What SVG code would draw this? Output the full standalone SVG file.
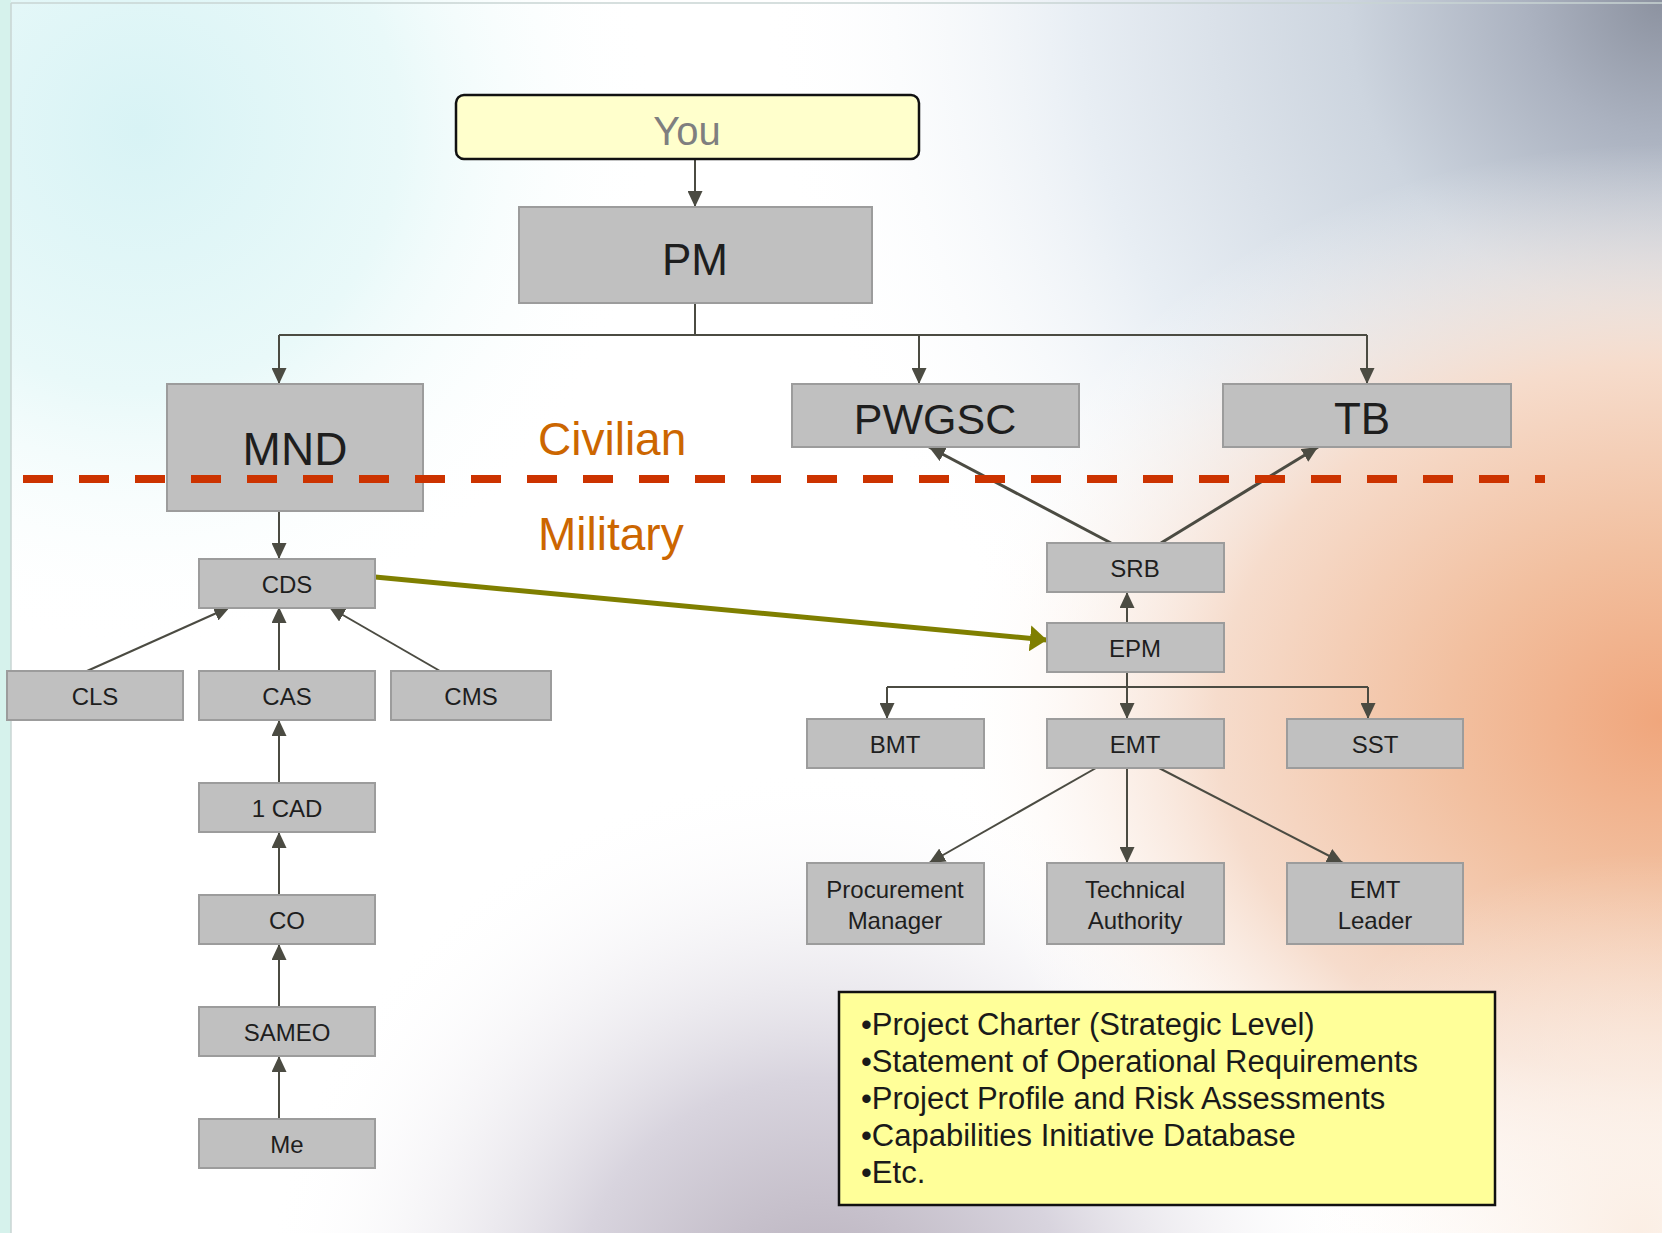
<svg xmlns="http://www.w3.org/2000/svg" width="1662" height="1233" viewBox="0 0 1662 1233">
<defs>
<style>
.node rect{fill:#c0c0c0;stroke:#9c9c9c;stroke-width:2}
.lbl{font-family:"Liberation Sans",Arial,sans-serif;fill:#1e1e1e;text-anchor:middle}
.s{font-size:24px}
.big{font-size:44px}
.c{fill:none;stroke:#4b4b42;stroke-width:2}
.side{font-family:"Liberation Sans",Arial,sans-serif;font-size:46px;fill:#cc6600}
.bul{font-family:"Liberation Sans",Arial,sans-serif;font-size:31px;fill:#1a1a1a}
</style>
<marker id="ah" markerUnits="userSpaceOnUse" markerWidth="17" markerHeight="15" refX="16" refY="7.5" orient="auto">
<path d="M0,0 L16,7.5 L0,15 z" fill="#4b4b42"/>
</marker>
<marker id="ahg" markerUnits="userSpaceOnUse" markerWidth="18" markerHeight="26" refX="17" refY="13" orient="auto">
<path d="M0,0 L17,13 L0,26 z" fill="#7f7f00"/>
</marker>
<radialGradient id="gCyan" cx="140" cy="130" r="520" gradientUnits="userSpaceOnUse">
<stop offset="0" stop-color="#d8f3f5"/>
<stop offset="0.5" stop-color="#e9f9f9"/>
<stop offset="1" stop-color="#ffffff" stop-opacity="0"/>
</radialGradient>
<radialGradient id="gTR" cx="1662" cy="0" r="900" gradientUnits="userSpaceOnUse">
<stop offset="0" stop-color="#8c92a0"/>
<stop offset="0.15" stop-color="#abb2c0"/>
<stop offset="0.35" stop-color="#cdd5df"/>
<stop offset="0.65" stop-color="#e8eef4"/>
<stop offset="1" stop-color="#ffffff" stop-opacity="0"/>
</radialGradient>
<radialGradient id="gPeach" cx="1662" cy="720" r="720" gradientUnits="userSpaceOnUse" gradientTransform="translate(0 720) scale(1 0.8) translate(0 -720)">
<stop offset="0" stop-color="#f0a67c"/>
<stop offset="0.3" stop-color="#f2c0a0"/>
<stop offset="0.62" stop-color="#f6dccc"/>
<stop offset="1" stop-color="#ffffff" stop-opacity="0"/>
</radialGradient>
<radialGradient id="gBot" cx="820" cy="1330" r="560" gradientUnits="userSpaceOnUse">
<stop offset="0" stop-color="#b4acb8"/>
<stop offset="0.45" stop-color="#d8d4de"/>
<stop offset="1" stop-color="#ffffff" stop-opacity="0"/>
</radialGradient>
<radialGradient id="gBR" cx="1640" cy="1233" r="380" gradientUnits="userSpaceOnUse">
<stop offset="0" stop-color="#fbeee4"/>
<stop offset="1" stop-color="#ffffff" stop-opacity="0"/>
</radialGradient>
</defs>

<g id="background">
<rect x="0" y="0" width="1662" height="1233" fill="#ffffff"/>
<rect x="0" y="0" width="1662" height="1233" fill="url(#gCyan)"/>
<rect x="0" y="0" width="1662" height="1233" fill="url(#gBot)"/>
<rect x="0" y="0" width="1662" height="1233" fill="url(#gTR)"/>
<rect x="0" y="0" width="1662" height="1233" fill="url(#gPeach)"/>
<rect x="0" y="0" width="1662" height="1233" fill="url(#gBR)"/>
<rect x="0" y="0" width="11" height="1233" fill="#d6f2ec"/>
<line x1="11" y1="3" x2="11" y2="1233" stroke="#c9d5d3" stroke-width="1.5"/>
<line x1="11" y1="3" x2="1662" y2="3" stroke="#c9d5d3" stroke-width="1.5"/>
</g>

<g id="connectors">
<line class="c" x1="695" y1="159" x2="695" y2="207" marker-end="url(#ah)"/>
<polyline class="c" points="695,303 695,335"/>
<polyline class="c" points="279,335 1367,335"/>
<line class="c" x1="279" y1="335" x2="279" y2="384" marker-end="url(#ah)"/>
<line class="c" x1="919" y1="335" x2="919" y2="384" marker-end="url(#ah)"/>
<line class="c" x1="1367" y1="335" x2="1367" y2="384" marker-end="url(#ah)"/>
<line class="c" x1="279" y1="511" x2="279" y2="559" marker-end="url(#ah)"/>
<line class="c" x1="87" y1="671" x2="230" y2="607" marker-end="url(#ah)"/>
<line class="c" x1="279" y1="671" x2="279" y2="607" marker-end="url(#ah)"/>
<line class="c" x1="440" y1="671" x2="329" y2="607" marker-end="url(#ah)"/>
<line class="c" x1="279" y1="783" x2="279" y2="720" marker-end="url(#ah)"/>
<line class="c" x1="279" y1="895" x2="279" y2="832" marker-end="url(#ah)"/>
<line class="c" x1="279" y1="1007" x2="279" y2="944" marker-end="url(#ah)"/>
<line class="c" x1="279" y1="1119" x2="279" y2="1056" marker-end="url(#ah)"/>
<line class="c" style="stroke-width:3" x1="1111" y1="543" x2="929" y2="447" marker-end="url(#ah)"/>
<line class="c" style="stroke-width:3" x1="1161" y1="543" x2="1318" y2="447" marker-end="url(#ah)"/>
<line class="c" x1="1127" y1="623" x2="1127" y2="592" marker-end="url(#ah)"/>
<polyline class="c" points="1127,672 1127,687"/>
<polyline class="c" points="887,687 1368,687"/>
<line class="c" x1="887" y1="687" x2="887" y2="719" marker-end="url(#ah)"/>
<line class="c" x1="1127" y1="687" x2="1127" y2="719" marker-end="url(#ah)"/>
<line class="c" x1="1368" y1="687" x2="1368" y2="719" marker-end="url(#ah)"/>
<line class="c" x1="1096" y1="768" x2="929" y2="863" marker-end="url(#ah)"/>
<line class="c" x1="1127" y1="768" x2="1127" y2="863" marker-end="url(#ah)"/>
<line class="c" x1="1159" y1="768" x2="1343" y2="863" marker-end="url(#ah)"/>
<line x1="375" y1="577" x2="1047" y2="640" stroke="#7f7f00" stroke-width="5" marker-end="url(#ahg)"/>
</g>

<g id="you">
<rect x="456" y="95" width="463" height="64" rx="8" fill="#ffffcc" stroke="#111" stroke-width="2.5"/>
<text class="lbl" x="687" y="145" style="font-size:40px;fill:#7f7f7f">You</text>
</g>
<g id="pm" class="node"><rect x="519" y="207" width="353" height="96"/><text class="lbl big" x="695" y="275">PM</text></g>
<g id="mnd" class="node"><rect x="167" y="384" width="256" height="127"/><text class="lbl" x="295" y="465" style="font-size:46px">MND</text></g>
<g id="pwgsc" class="node"><rect x="792" y="384" width="287" height="63"/><text class="lbl" x="935" y="434" style="font-size:43px">PWGSC</text></g>
<g id="tb" class="node"><rect x="1223" y="384" width="288" height="63"/><text class="lbl big" x="1362" y="434">TB</text></g>

<g id="cds" class="node"><rect x="199" y="559" width="176" height="49"/><text class="lbl s" x="287" y="593">CDS</text></g>
<g id="cls" class="node"><rect x="7" y="671" width="176" height="49"/><text class="lbl s" x="95" y="705">CLS</text></g>
<g id="cas" class="node"><rect x="199" y="671" width="176" height="49"/><text class="lbl s" x="287" y="705">CAS</text></g>
<g id="cms" class="node"><rect x="391" y="671" width="160" height="49"/><text class="lbl s" x="471" y="705">CMS</text></g>
<g id="cad" class="node"><rect x="199" y="783" width="176" height="49"/><text class="lbl s" x="287" y="817">1 CAD</text></g>
<g id="co" class="node"><rect x="199" y="895" width="176" height="49"/><text class="lbl s" x="287" y="929">CO</text></g>
<g id="sameo" class="node"><rect x="199" y="1007" width="176" height="49"/><text class="lbl s" x="287" y="1041">SAMEO</text></g>
<g id="me" class="node"><rect x="199" y="1119" width="176" height="49"/><text class="lbl s" x="287" y="1153">Me</text></g>

<g id="srb" class="node"><rect x="1047" y="543" width="177" height="49"/><text class="lbl s" x="1135" y="577">SRB</text></g>
<g id="epm" class="node"><rect x="1047" y="623" width="177" height="49"/><text class="lbl s" x="1135" y="657">EPM</text></g>
<g id="bmt" class="node"><rect x="807" y="719" width="177" height="49"/><text class="lbl s" x="895" y="753">BMT</text></g>
<g id="emt" class="node"><rect x="1047" y="719" width="177" height="49"/><text class="lbl s" x="1135" y="753">EMT</text></g>
<g id="sst" class="node"><rect x="1287" y="719" width="176" height="49"/><text class="lbl s" x="1375" y="753">SST</text></g>
<g id="procurement" class="node"><rect x="807" y="863" width="177" height="81"/><text class="lbl s" x="895" y="898">Procurement</text><text class="lbl s" x="895" y="929">Manager</text></g>
<g id="technical" class="node"><rect x="1047" y="863" width="177" height="81"/><text class="lbl s" x="1135" y="898">Technical</text><text class="lbl s" x="1135" y="929">Authority</text></g>
<g id="emtleader" class="node"><rect x="1287" y="863" width="176" height="81"/><text class="lbl s" x="1375" y="898">EMT</text><text class="lbl s" x="1375" y="929">Leader</text></g>

<g id="divider">
<line x1="23" y1="479" x2="1545" y2="479" stroke="#cc3300" stroke-width="8" stroke-dasharray="30 26"/>
<text class="side" x="538" y="455">Civilian</text>
<text class="side" x="538" y="550">Military</text>
</g>

<g id="notes">
<rect x="839" y="992" width="656" height="213" fill="#ffff99" stroke="#111" stroke-width="2.5"/>
<text class="bul" x="861" y="1035">•Project Charter (Strategic Level)</text>
<text class="bul" x="861" y="1072">•Statement of Operational Requirements</text>
<text class="bul" x="861" y="1109">•Project Profile and Risk Assessments</text>
<text class="bul" x="861" y="1146">•Capabilities Initiative Database</text>
<text class="bul" x="861" y="1183">•Etc.</text>
</g>
</svg>
